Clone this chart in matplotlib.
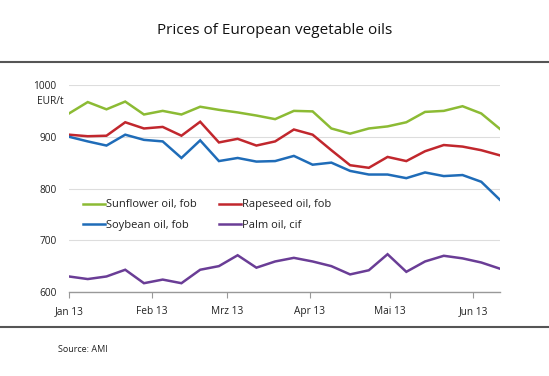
import matplotlib
matplotlib.use("Agg")
import matplotlib.pyplot as plt
import numpy as np
import pandas as pd
from matplotlib.lines import Line2D

plt.rcParams['font.family'] = ['Open Sans', 'DejaVu Sans']

dates = pd.date_range("2013-01-01", periods=24, freq="7D")

sunflower = [945, 967, 953, 968, 943, 950, 943, 958, 952, 947, 941, 934,
             950, 949, 916, 906, 916, 920, 928, 948, 950, 959, 945, 915]
rapeseed = [904, 901, 902, 928, 916, 919, 902, 929, 889, 896, 883, 891,
            914, 904, 874, 845, 840, 861, 853, 872, 884, 881, 874, 864]
soybean = [900, 891, 883, 904, 894, 891, 859, 893, 853, 859, 852, 853,
           863, 846, 850, 834, 827, 827, 820, 831, 824, 826, 813, 778]
palm = [630, 625, 630, 643, 617, 624, 617, 643, 650, 671, 647, 659,
        666, 659, 650, 634, 642, 673, 639, 659, 670, 665, 657, 645]

series_names = ["Sunflower oil, fob", "Rapeseed oil, fob", "Soybean oil, fob", "Palm oil, cif"]
series_colors = ["#8cbb34", "#c1272d", "#1f6cb8", "#6a3d96"]
yticks = [600, 700, 800, 900, 1000]
month_ticks = pd.to_datetime(["2013-01-01", "2013-02-01", "2013-03-01", "2013-04-01", "2013-05-01", "2013-06-01"])
month_labels = ["Jan 13", "Feb 13", "Mrz 13", "Apr 13", "Mai 13", "Jun 13"]

fig = plt.figure(figsize=(5.49, 3.76), dpi=100)
ax = fig.add_axes([69/549, 1-292/376, 431/549, 207/376])

handles = []
for name, vals, c in zip(series_names, [sunflower, rapeseed, soybean, palm], series_colors):
    h, = ax.plot(dates, vals, color=c, lw=1.8, label=name, solid_joinstyle='miter')
    handles.append(h)

ax.set_xlim(dates[0], dates[-1])
ax.set_ylim(600, 1000)
ax.set_yticks(yticks)
ax.set_yticklabels([str(v) for v in yticks])
ax.set_xticks(month_ticks)
ax.set_xticklabels(month_labels)

for s in ["top", "right", "left"]:
    ax.spines[s].set_visible(False)
ax.spines["bottom"].set_color("#999999")
ax.spines["bottom"].set_linewidth(1.0)
ax.grid(axis="y", color="#dddddd", lw=0.8)
ax.set_axisbelow(True)
ax.tick_params(axis="y", length=0, pad=9, labelsize=7.3, labelcolor="#222222")
ax.tick_params(axis="x", length=4, color="#999999", pad=6, labelsize=7.3, labelcolor="#222222")

ax.text(-0.075, 0.92, "EUR/t", transform=ax.transAxes, fontsize=7.3, color="#222222",
        ha="left", va="center")

order = [0, 2, 1, 3]
leg = ax.legend([handles[i] for i in order], [series_names[i] for i in order],
                ncol=2, loc="upper left", bbox_to_anchor=(0.032, 0.447), frameon=False,
                fontsize=8, handlelength=2.0, handletextpad=0.1, columnspacing=2.0,
                labelspacing=0.85, borderpad=0, borderaxespad=0)
for t in leg.get_texts():
    t.set_color("#222222")

fig.text(0.5, 1-30/376, "Prices of European vegetable oils", ha="center", va="center",
         fontsize=11, color="#111111")
fig.add_artist(Line2D([0, 1], [1-62/376, 1-62/376], color="#555555", lw=1.5))
fig.add_artist(Line2D([0, 1], [1-327/376, 1-327/376], color="#555555", lw=1.5))
fig.text(58/549, 1-350/376, "Source: AMI", ha="left", va="center", fontsize=6.5, color="#222222")

fig.savefig("out.png", dpi=100)
